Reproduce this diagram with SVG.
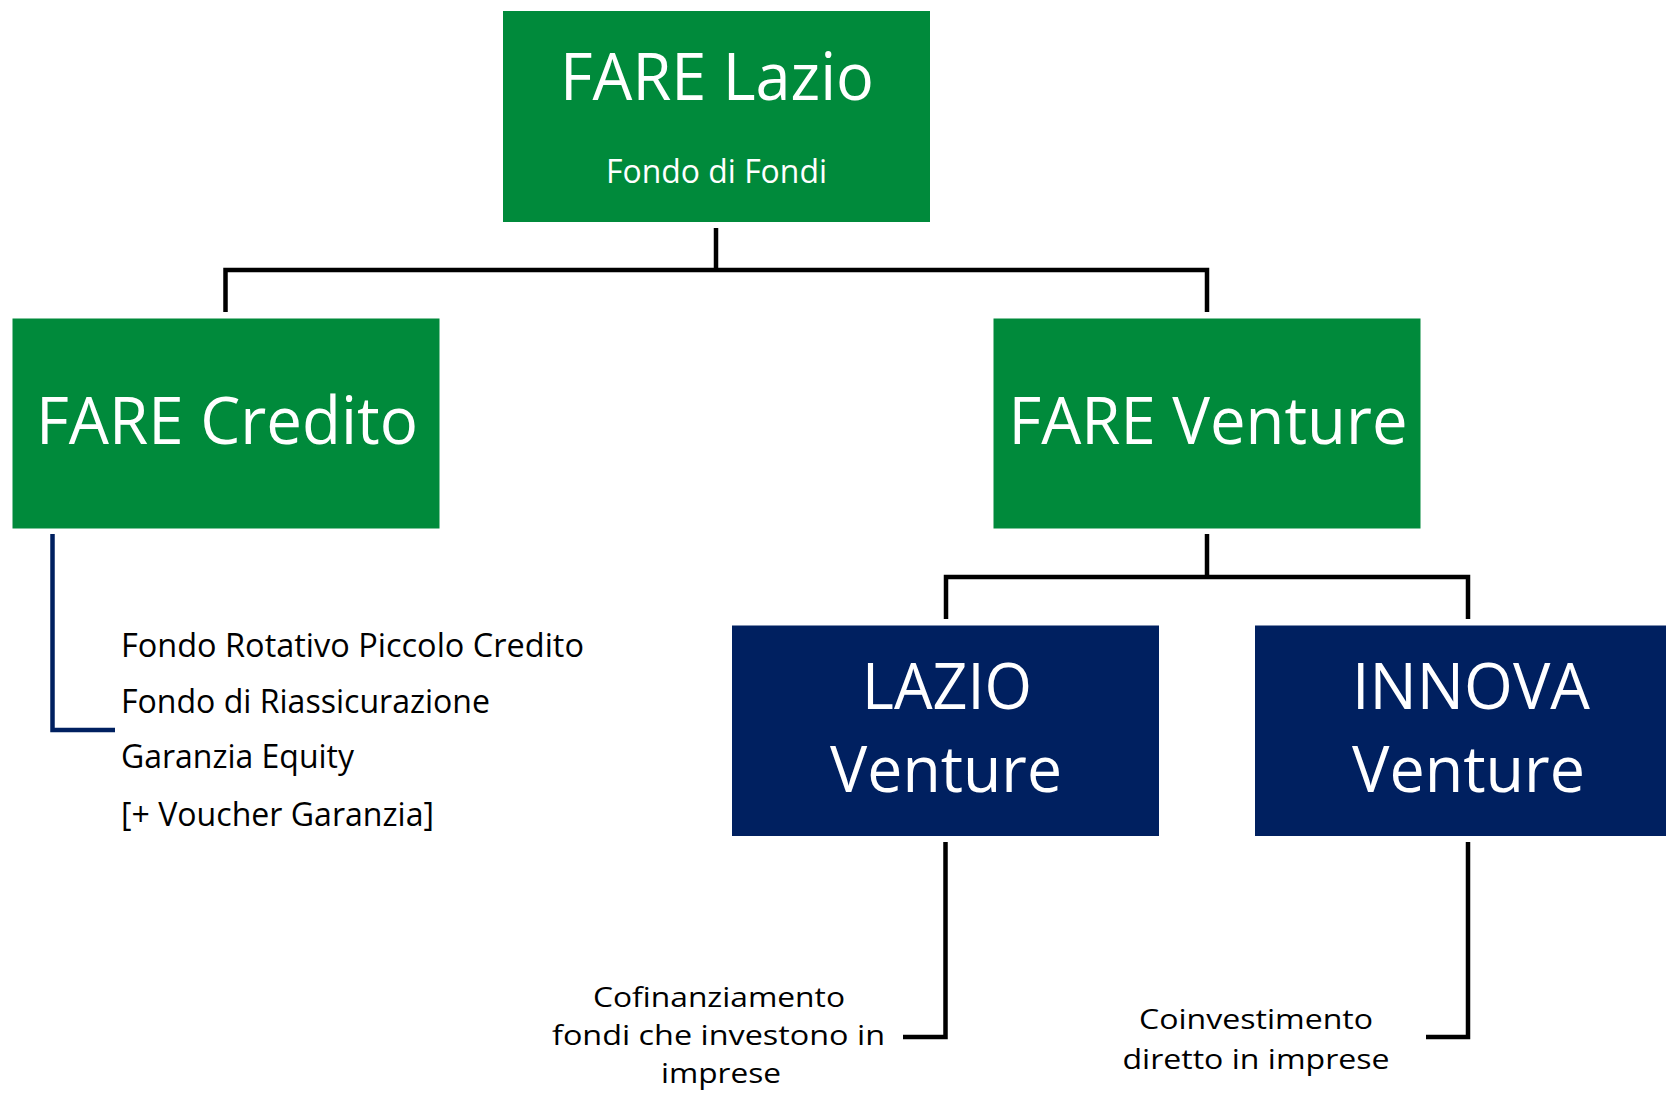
<svg xmlns="http://www.w3.org/2000/svg" width="1666" height="1094" viewBox="0 0 1666 1094">
<style>
.bg{fill:#ffffff}
.green{fill:#008A3B}
.navy{fill:#002060}
.t{font-family:"Open Sans","Noto Sans","Liberation Sans",sans-serif}
.w{fill:#ffffff}
.k{fill:#000000}
.big{font-size:66px}
.mid{font-size:64px}
.sm{font-size:33px}
.note{font-size:28px}
.line{fill:none;stroke:#000000;stroke-width:4.5;stroke-linejoin:miter}
.nline{fill:none;stroke:#002060;stroke-width:4.5}
</style>
<rect class="bg" x="0" y="0" width="1666" height="1094"/>
<g id="connectors">
<path class="line" d="M716,228 V270"/>
<path class="line" d="M225.5,312 V270 H1207 V312"/>
<path class="line" d="M1207,534 V577"/>
<path class="line" d="M946,619 V577 H1468 V619"/>
<path class="nline" d="M52.5,534 V730 H115"/>
<path class="line" d="M945.5,842 V1037 H903"/>
<path class="line" d="M1468,842 V1037 H1426"/>
</g>
<g id="fare-lazio">
<rect class="green" x="503" y="11" width="427" height="211"/>
<text class="t w big" x="717" y="100" text-anchor="middle" textLength="314" lengthAdjust="spacingAndGlyphs">FARE Lazio</text>
<text class="t w sm" x="716.5" y="183" text-anchor="middle" textLength="221" lengthAdjust="spacingAndGlyphs">Fondo di Fondi</text>
</g>
<g id="fare-credito">
<rect class="green" x="12.5" y="318.5" width="427" height="210"/>
<text class="t w big" x="227" y="444" text-anchor="middle" textLength="382" lengthAdjust="spacingAndGlyphs">FARE Credito</text>
</g>
<g id="fare-venture">
<rect class="green" x="993.5" y="318.5" width="427" height="210"/>
<text class="t w big" x="1208" y="444" text-anchor="middle" textLength="399" lengthAdjust="spacingAndGlyphs">FARE Venture</text>
</g>
<g id="credito-list">
<text class="t k sm" x="121" y="657" textLength="463" lengthAdjust="spacingAndGlyphs">Fondo Rotativo Piccolo Credito</text>
<text class="t k sm" x="121" y="713" textLength="369" lengthAdjust="spacingAndGlyphs">Fondo di Riassicurazione</text>
<text class="t k sm" x="121" y="768" textLength="233" lengthAdjust="spacingAndGlyphs">Garanzia Equity</text>
<text class="t k sm" x="121" y="826" textLength="313" lengthAdjust="spacingAndGlyphs">[+ Voucher Garanzia]</text>
</g>
<g id="lazio-venture">
<rect class="navy" x="732" y="625.5" width="427" height="210.5"/>
<text class="t w mid" x="947" y="709" text-anchor="middle" textLength="170" lengthAdjust="spacingAndGlyphs">LAZIO</text>
<text class="t w mid" x="946" y="792" text-anchor="middle" textLength="232" lengthAdjust="spacingAndGlyphs">Venture</text>
</g>
<g id="innova-venture">
<rect class="navy" x="1255" y="625.5" width="411" height="210.5"/>
<text class="t w mid" x="1471" y="709" text-anchor="middle" textLength="238" lengthAdjust="spacingAndGlyphs">INNOVA</text>
<text class="t w mid" x="1468.5" y="792" text-anchor="middle" textLength="233" lengthAdjust="spacingAndGlyphs">Venture</text>
</g>
<g id="cofinanziamento">
<text class="t k note" x="719" y="1007" text-anchor="middle" textLength="252" lengthAdjust="spacingAndGlyphs">Cofinanziamento</text>
<text class="t k note" x="718.5" y="1045" text-anchor="middle" textLength="333" lengthAdjust="spacingAndGlyphs">fondi che investono in</text>
<text class="t k note" x="721" y="1083" text-anchor="middle" textLength="120" lengthAdjust="spacingAndGlyphs">imprese</text>
</g>
<g id="coinvestimento">
<text class="t k note" x="1256" y="1029" text-anchor="middle" textLength="234" lengthAdjust="spacingAndGlyphs">Coinvestimento</text>
<text class="t k note" x="1256" y="1069" text-anchor="middle" textLength="267" lengthAdjust="spacingAndGlyphs">diretto in imprese</text>
</g>
</svg>
